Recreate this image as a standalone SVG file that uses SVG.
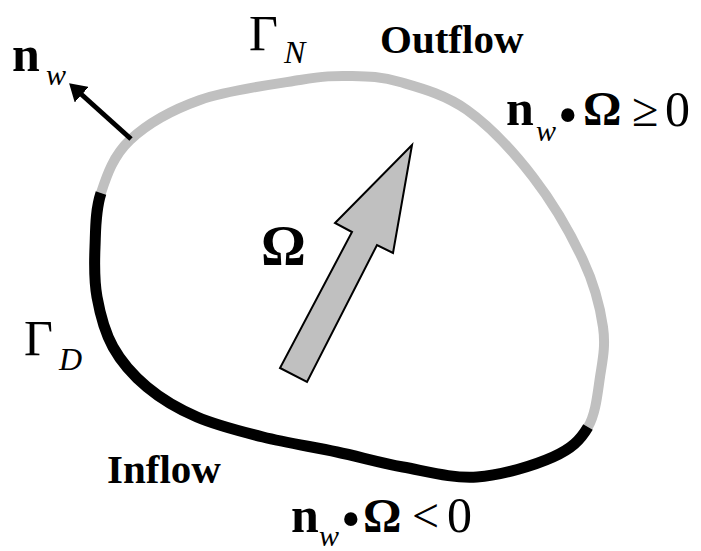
<svg xmlns="http://www.w3.org/2000/svg" width="701" height="551" viewBox="0 0 701 551">
<defs>
<style>
.t{font-family:"Liberation Serif","Times New Roman",serif;fill:#000}
.b{font-weight:bold}
.i{font-style:italic}
.gray{fill:none;stroke:#c0c0c0;stroke-width:10}
.black{fill:none;stroke:#000;stroke-width:11}
</style>
<marker id="ah" viewBox="0 0 17 21" refX="1" refY="10.5" markerWidth="17" markerHeight="21" markerUnits="userSpaceOnUse" orient="auto">
<path d="M0,0 L17,10.5 L0,21 z" fill="#000"/>
</marker>
</defs>
<rect width="701" height="551" fill="#fff"/>
<g id="boundary">
<path id="gamma-n" class="gray" d="M101,193 C106.8,175.2 113.5,155.5 130,140 C146.5,124.5 171.7,110 200,100 C228.3,90 275,84 300,80 C325,76 333.3,75.7 350,76 C366.7,76.3 380.5,76.3 400,82 C419.5,87.7 444.8,94.2 467,110 C489.2,125.8 513.7,152 533,177 C552.3,202 571.3,235 583,260 C594.7,285 600.2,307.5 603,327 C605.8,346.5 602.5,360.3 600,377 C597.5,393.7 595.8,413.7 588,427"/>
<path id="gamma-d" class="black" d="M588,427 C580.2,440.3 571.5,448.7 553,457 C534.5,465.3 502,475.3 477,477 C452,478.7 426.3,471.2 403,467 C379.7,462.8 360.3,457 337,452 C313.7,447 286.3,442.8 263,437 C239.7,431.2 216.3,425.3 197,417 C177.7,408.7 161,398.7 147,387 C133,375.3 121.3,362 113,347 C104.7,332 100,313.7 97,297 C94,280.3 94.3,264.3 95,247 C95.7,229.7 95.2,210.8 101,193"/>
</g>
<g id="connectors">
<line id="normal" x1="131" y1="139" x2="81" y2="94" stroke="#000" stroke-width="5" marker-end="url(#ah)"/>
</g>
<g id="omega-arrow">
<path d="M412,145 L393,253 L377,245 L307,382 L280,368 L352,232 L335,223 Z" fill="#c0c0c0" stroke="#000" stroke-width="2" stroke-linejoin="miter"/>
</g>
<g id="labels">
<text class="t b" x="12" y="71" font-size="50">n</text>
<text class="t i" x="46" y="85" font-size="30">w</text>
<text class="t" x="249" y="50" font-size="50">Γ</text>
<text class="t i" x="284" y="63" font-size="32">N</text>
<text class="t b" x="380" y="53" font-size="41">Outflow</text>
<text class="t b" x="506" y="125" font-size="50">n</text>
<text class="t i" x="536" y="141" font-size="30">w</text>
<text class="t" x="558" y="134" font-size="56">•</text>
<text class="t b" x="583" y="125" font-size="48">Ω</text>
<text class="t" x="632" y="126" font-size="48">≥</text>
<text class="t" x="665" y="126" font-size="50">0</text>
<text class="t b" x="261" y="265" font-size="56">Ω</text>
<text class="t" x="24" y="355" font-size="50">Γ</text>
<text class="t i" x="59" y="370" font-size="32">D</text>
<text class="t b" x="107" y="483" font-size="41">Inflow</text>
<text class="t b" x="291" y="532" font-size="50">n</text>
<text class="t i" x="319" y="546" font-size="30">w</text>
<text class="t" x="341" y="538" font-size="56">•</text>
<text class="t b" x="363" y="532" font-size="48">Ω</text>
<text class="t" x="412" y="532" font-size="48">&lt;</text>
<text class="t" x="447" y="532" font-size="50">0</text>
</g>
</svg>
